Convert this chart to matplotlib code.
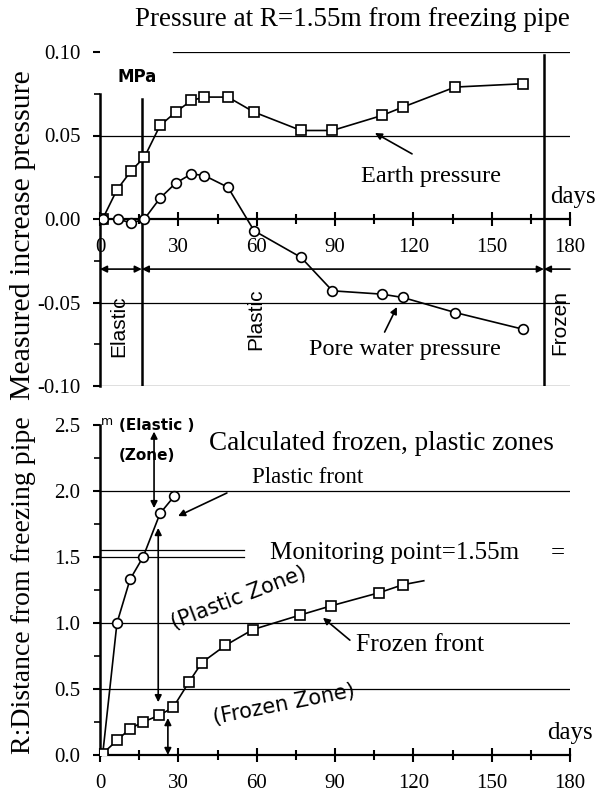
import numpy as np
import matplotlib
matplotlib.use("Agg")
import matplotlib.pyplot as plt
from matplotlib.ticker import MultipleLocator

# Top chart: measured pressures at R=1.55m (days, MPa)
earth_days = [1, 6.5, 12, 17, 23, 29, 35, 40, 49, 59, 77, 89, 108, 116, 136, 162]
earth_p = [0.0, 0.0175, 0.029, 0.037, 0.056, 0.064, 0.071, 0.073, 0.073, 0.064,
           0.053, 0.053, 0.062, 0.067, 0.079, 0.081]
pore_days = [1, 7, 12, 17, 23, 29, 35, 40, 49, 59, 77, 89, 108, 116, 136, 162]
pore_p = [0.0, 0.0, -0.0025, 0.0, 0.0125, 0.0215, 0.027, 0.026, 0.019, -0.007,
          -0.023, -0.043, -0.045, -0.047, -0.056, -0.066]

# Bottom chart: calculated fronts (days, m)
plastic_days = [1, 6.5, 11.5, 16.5, 23, 28.4]
plastic_r = [0.0, 1.0, 1.33, 1.50, 1.83, 1.96]
frozen_days = [1, 6.5, 11.5, 16.5, 22.6, 28, 34, 39, 48, 58.5, 76.6, 88.5, 107, 116, 124]
frozen_r = [0.01, 0.11, 0.20, 0.25, 0.30, 0.36, 0.55, 0.70, 0.83, 0.95, 1.06, 1.13,
            1.23, 1.29, 1.32]

elastic_end = 16
frozen_start = 170
monitor_r = 1.55

W, H = 597, 797
serif = "Liberation Serif"
sans = "DejaVu Sans"
asans = "Liberation Sans"

fig = plt.figure(figsize=(W / 100, H / 100), dpi=100)
ax1 = fig.add_axes([100 / W, 1 - 386 / H, 470 / W, 334 / H])
ax2 = fig.add_axes([100 / W, 1 - 755 / H, 470 / W, 330 / H])

for ax in (ax1, ax2):
    ax.set_facecolor("none")
    ax.set_xlim(0, 180)
    for s in ("top", "right"):
        ax.spines[s].set_visible(False)
    ax.spines["left"].set_linewidth(1.8)
    ax.spines["bottom"].set_linewidth(1.6)
    ax.xaxis.set_major_locator(MultipleLocator(30))
    ax.xaxis.set_minor_locator(MultipleLocator(15))
    ax.tick_params(axis="x", which="major", direction="inout", length=10, width=1.5,
                   labelsize=15, pad=9)
    ax.tick_params(axis="x", which="minor", direction="inout", length=7, width=1.5)
    ax.tick_params(axis="y", which="major", direction="out", length=5, width=1.5,
                   labelsize=15, pad=9)
    ax.tick_params(axis="y", which="minor", direction="out", length=4, width=1.2)

# ---- top chart ----
ax1.set_ylim(-0.10, 0.10)
ax1.spines["bottom"].set_position(("data", 0))
ax1.spines["left"].set_bounds(-0.10, 0.075)
ax1.yaxis.set_minor_locator(MultipleLocator(0.025))
ax1.set_yticks([-0.10, -0.05, 0.0, 0.05, 0.10])
ax1.set_yticklabels(["-0.10", "-0.05", "0.00", "0.05", "0.10"], family=serif)
ax1.set_xticks(range(0, 181, 30))
ax1.set_xticklabels([str(v) for v in range(0, 181, 30)], family=serif)

for yv in (0.05, -0.05, -0.10):
    ax1.axhline(yv, color="black", lw=0.9)
ax1.plot([28, 180], [0.10, 0.10], color="black", lw=0.9)
ax1.plot([elastic_end, elastic_end], [-0.10, 0.072], color="black", lw=1.8)
ax1.plot([frozen_start, frozen_start], [-0.10, 0.098], color="black", lw=1.8)

ax1.plot(earth_days, earth_p, "-s", color="black", lw=1.2, ms=6.5,
         mfc="white", mec="black", mew=1.2, zorder=4)
ax1.plot(pore_days, pore_p, "-o", color="black", lw=1.2, ms=7,
         mfc="white", mec="black", mew=1.2, zorder=4)

arr = dict(arrowstyle="<|-|>", color="black", lw=1.2, mutation_scale=10, shrinkA=0, shrinkB=0)
one = dict(arrowstyle="-|>", color="black", lw=1.2, mutation_scale=10, shrinkA=0, shrinkB=0)
ax1.annotate("", xy=(elastic_end, -0.03), xytext=(0, -0.03), arrowprops=arr)
ax1.annotate("", xy=(frozen_start, -0.03), xytext=(elastic_end, -0.03), arrowprops=arr)
ax1.annotate("", xy=(frozen_start, -0.03), xytext=(180, -0.03), arrowprops=one)

ax1.text(14.4, 0.085, "MPa", family=sans, weight="bold", fontsize=12,
         ha="center", va="center")
ax1.text(7.3, -0.064, "Elastic", family=asans, fontsize=15, rotation=90,
         ha="center", va="center")
ax1.text(59.7, -0.06, "Plastic", family=asans, fontsize=15, rotation=90,
         ha="center", va="center")
ax1.text(176, -0.0617, "Frozen", family=asans, fontsize=15, rotation=90,
         ha="center", va="center")

ax1.text(126.8, 0.0257, "Earth pressure", family=serif, fontsize=17.5,
         ha="center", va="center")
ax1.annotate("", xy=(105.3, 0.0515), xytext=(119.5, 0.039), arrowprops=one)
ax1.text(116.6, -0.078, "Pore water pressure", family=serif, fontsize=17.5,
         ha="center", va="center")
ax1.annotate("", xy=(113.7, -0.0527), xytext=(109, -0.0677), arrowprops=one)
ax1.text(181, 0.013, "days", family=serif, fontsize=18, ha="center", va="center")

ax1.set_ylabel("Measured increase pressure", family=serif, fontsize=21.5)
ax1.yaxis.set_label_coords(-0.136, 0.452)

# ---- bottom chart ----
ax2.set_ylim(0, 2.5)
ax2.spines["left"].set_bounds(0, 2.5)
ax2.yaxis.set_minor_locator(MultipleLocator(0.25))
ax2.set_yticks([0, 0.5, 1.0, 1.5, 2.0, 2.5])
ax2.set_yticklabels(["0.0", "0.5", "1.0", "1.5", "2.0", "2.5"], family=serif)
ax2.set_xticks(range(0, 181, 30))
ax2.set_xticklabels([str(v) for v in range(0, 181, 30)], family=serif)

for yv in (2.0, 1.0, 0.5):
    ax2.axhline(yv, color="black", lw=0.9)
ax2.plot([0, 55], [1.5, 1.5], color="black", lw=0.9)
ax2.plot([0, 55], [monitor_r, monitor_r], color="black", lw=0.9)

ax2.plot(plastic_days, plastic_r, "-o", color="black", lw=1.2, ms=7,
         mfc="white", mec="black", mew=1.2, zorder=4)
ax2.plot(frozen_days, frozen_r, "-s", color="black", lw=1.2, ms=6.5,
         mfc="white", mec="black", mew=1.2, zorder=4,
         markevery=list(range(len(frozen_days) - 1)))

ax2.annotate("", xy=(20.7, 2.45), xytext=(20.7, 1.87), arrowprops=arr)
ax2.annotate("", xy=(22.3, 1.72), xytext=(22.3, 0.40), arrowprops=arr)
ax2.annotate("", xy=(26, 0.28), xytext=(26, 0.0), arrowprops=arr)

ax2.text(0.3, 2.53, "m", family=sans, fontsize=9, ha="left", va="center")
ax2.text(7.3, 2.5, "(Elastic )", family=sans, weight="bold", fontsize=11,
         ha="left", va="center")
ax2.text(7.3, 2.27, "(Zone)", family=sans, weight="bold", fontsize=11,
         ha="left", va="center")
ax2.text(107.8, 2.36, "Calculated frozen, plastic zones", family=serif, fontsize=19.5,
         ha="center", va="center")
ax2.text(79.7, 2.10, "Plastic front", family=serif, fontsize=16.5,
         ha="center", va="center")
ax2.annotate("", xy=(29.9, 1.81), xytext=(48.6, 1.985), arrowprops=one)
ax2.text(113, 1.53, "Monitoring point=1.55m", family=serif, fontsize=18,
         ha="center", va="center")
ax2.text(175.4, 1.53, "=", family=serif, fontsize=18, ha="center", va="center")
ax2.text(53.2, 1.19, "(Plastic Zone)", family=sans, fontsize=15, rotation=21,
         ha="center", va="center")
ax2.text(70.5, 0.38, "(Frozen Zone)", family=sans, fontsize=15, rotation=11,
         ha="center", va="center")
ax2.text(122.6, 0.833, "Frozen front", family=serif, fontsize=18.5,
         ha="center", va="center")
ax2.annotate("", xy=(85.4, 1.04), xytext=(95.7, 0.87), arrowprops=one)
ax2.text(180, 0.167, "days", family=serif, fontsize=18, ha="center", va="center")

ax2.set_ylabel("R:Distance from freezing pipe", family=serif, fontsize=20)
ax2.yaxis.set_label_coords(-0.136, 0.515)

fig.text(352 / W, 1 - 20 / H, "Pressure at R=1.55m from freezing pipe",
         family=serif, fontsize=19.5, ha="center", va="center")

fig.savefig("out.png", dpi=100)
